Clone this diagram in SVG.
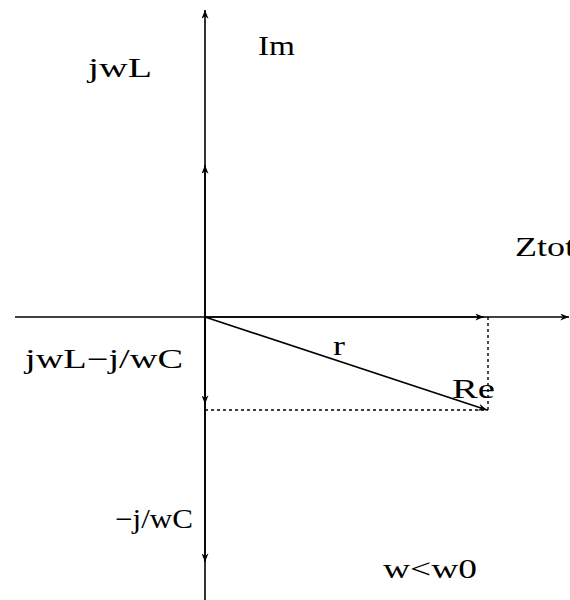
<svg xmlns="http://www.w3.org/2000/svg" width="570" height="600" viewBox="0 0 570 600">
<style>
text{font-family:"Liberation Serif","Times New Roman",serif;font-size:27px;fill:#000}
.ax{stroke:#000;stroke-width:1.6;fill:none}
.dash{stroke:#000;stroke-width:1.4;stroke-dasharray:3,3;fill:none}
</style>
<defs>
<marker id="ah" viewBox="0 0 10 8" refX="10" refY="4" markerWidth="9" markerHeight="7" markerUnits="userSpaceOnUse" orient="auto">
<path d="M0,0 L10,4 L0,8 L3,4 Z" fill="#000"/>
</marker>
</defs>
<g id="connectors">
<line class="ax" x1="205" y1="600" x2="205" y2="10" marker-end="url(#ah)"/>
<line class="ax" x1="205" y1="317" x2="205" y2="165" marker-end="url(#ah)"/>
<line class="ax" x1="205" y1="317" x2="205" y2="404" marker-end="url(#ah)"/>
<line class="ax" x1="205" y1="317" x2="205" y2="562" marker-end="url(#ah)"/>
<line class="ax" x1="15" y1="317" x2="569" y2="317" marker-end="url(#ah)"/>
<line class="ax" x1="205" y1="317" x2="484" y2="317" marker-end="url(#ah)"/>
<line class="ax" x1="205" y1="317" x2="487" y2="410" marker-end="url(#ah)"/>
<line class="dash" x1="205" y1="410" x2="488" y2="410"/>
<line class="dash" x1="488" y1="317" x2="488" y2="410"/>
</g>
<g id="labels" font-family="Liberation Serif, serif">
<text x="88" y="77" textLength="64" lengthAdjust="spacingAndGlyphs">jwL</text>
<text x="258" y="55" textLength="37" lengthAdjust="spacingAndGlyphs">Im</text>
<text x="515" y="256" textLength="60" lengthAdjust="spacingAndGlyphs">Ztot</text>
<text x="25" y="368" textLength="158" lengthAdjust="spacingAndGlyphs">jwL−j/wC</text>
<text x="333" y="355" textLength="12" lengthAdjust="spacingAndGlyphs">r</text>
<text x="452" y="398" textLength="43" lengthAdjust="spacingAndGlyphs">Re</text>
<text x="115" y="528" textLength="78" lengthAdjust="spacingAndGlyphs">−j/wC</text>
<text x="383" y="578" textLength="94" lengthAdjust="spacingAndGlyphs">w&lt;w0</text>
</g>
</svg>
